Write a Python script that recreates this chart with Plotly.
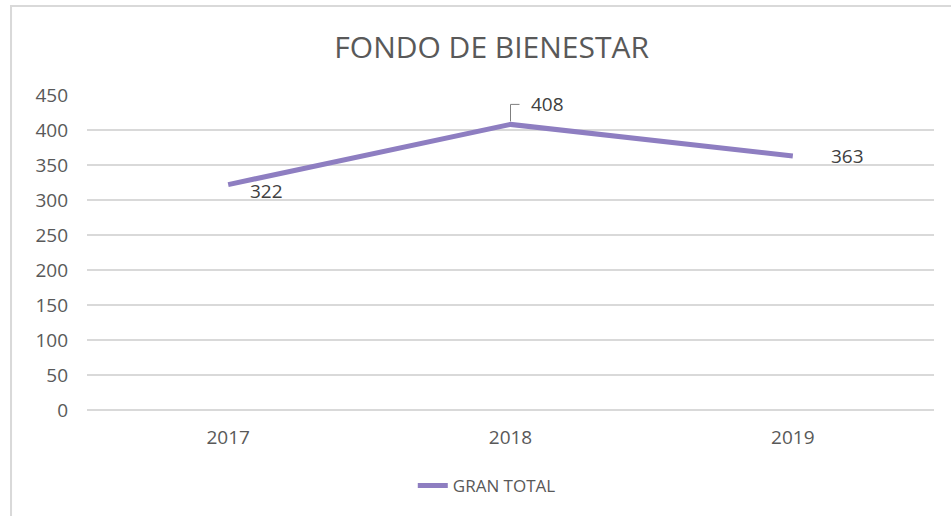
import plotly.graph_objects as go

# datos
years = ["2017", "2018", "2019"]
gran_total = [322, 408, 363]
y_ticks = [0, 50, 100, 150, 200, 250, 300, 350, 400, 450]

LINE = "#8E7EC1"
GRID = "#D9D9D9"
TXT = "#595959"
FONT = "Open Sans"

fig = go.Figure()
fig.add_trace(go.Scatter(
    x=years, y=gran_total, name="GRAN TOTAL", mode="lines",
    line=dict(color=LINE, width=5),
))

# etiquetas de datos (estilo Excel)
label_font = dict(family=FONT, size=19, color="#404040")
fig.add_annotation(x=0, y=gran_total[0], text=str(gran_total[0]),
                   showarrow=False, xanchor="left", yanchor="middle",
                   xshift=20, yshift=-6, font=label_font)
fig.add_annotation(x=2, y=gran_total[2], text=str(gran_total[2]),
                   showarrow=False, xanchor="left", yanchor="middle",
                   xshift=36, font=label_font)
fig.add_annotation(x=1, y=gran_total[1], text=str(gran_total[1]),
                   showarrow=False, xanchor="left", yanchor="middle",
                   xshift=18, yshift=20, font=label_font)
# línea guía de la etiqueta 408
fig.add_shape(type="path", xref="x", yref="y",
              xsizemode="pixel", ysizemode="pixel",
              xanchor=1, yanchor=gran_total[1],
              path="M0,3 L0,20 L9,20", line=dict(color="#7F7F7F", width=1))

# borde del área del gráfico (sale por la derecha y por abajo)
fig.add_shape(type="rect", xref="paper", yref="paper",
              x0=-0.0897, x1=1.2, y0=-0.5, y1=1.2825,
              line=dict(color=GRID, width=2), layer="below")

fig.update_layout(
    width=951, height=516,
    margin=dict(l=87, r=17, t=95, b=106),
    paper_bgcolor="white", plot_bgcolor="white",
    font=dict(family=FONT, color=TXT),
    title=dict(text="FONDO DE BIENESTAR", x=0.517, xanchor="center",
               y=1 - 47 / 516, yanchor="middle",
               font=dict(family=FONT, size=30, color=TXT)),
    showlegend=True,
    legend=dict(orientation="h", x=0.472, xanchor="center",
                y=-0.241, yanchor="middle",
                font=dict(family=FONT, size=17, color=TXT)),
    xaxis=dict(type="category", range=[-0.5, 2.5], showgrid=False,
               showline=False, zeroline=False, ticks="",
               ticklabelstandoff=14, tickfont=dict(size=19, color=TXT)),
    yaxis=dict(range=[0, 450], tickvals=y_ticks, showgrid=True,
               gridcolor=GRID, gridwidth=2, zeroline=True,
               zerolinecolor=GRID, zerolinewidth=2, showline=False,
               ticks="", ticklabelstandoff=18,
               tickfont=dict(size=19, color=TXT)),
)

fig.write_html("out.html", config={"displayModeBar": False},
               post_script="document.body.style.margin='0';")
